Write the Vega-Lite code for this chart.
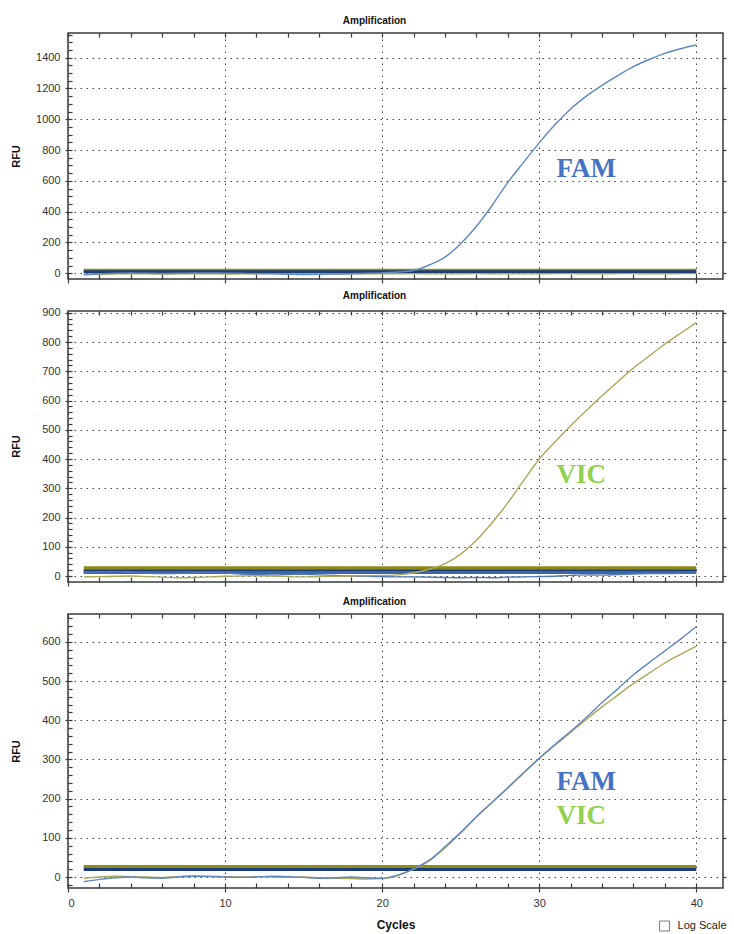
{
  "$schema": "https://vega.github.io/schema/vega-lite/v6.json",
  "padding": {"left": 9, "top": 15, "right": 2, "bottom": 2},
  "background": "white",
  "spacing": 32,
  "bounds": "flush",
  "config": {
    "view": {"stroke": "#3a3a3a", "strokeWidth": 1.5},
    "font": "Liberation Sans",
    "axis": {
      "labelFont": "Liberation Sans", "labelFontSize": 11, "labelColor": "#333",
      "tickColor": "#3a3a3a", "tickWidth": 1.2, "domain": false,
      "gridColor": "#444", "gridDash": [1.5, 4.5], "gridWidth": 1, "gridOpacity": 1,
      "titleFont": "Liberation Sans", "titleFontWeight": "bold", "titleFontSize": 11, "titleColor": "#111"
    },
    "title": {"font": "Liberation Sans", "fontSize": 10, "fontWeight": "bold", "color": "#111"}
  },
  "datasets": {
    "top": [
      {"cycle":1,"FAM":-8,"VIC":-9},{"cycle":2,"FAM":-3,"VIC":-6},{"cycle":3,"FAM":0,"VIC":-4},{"cycle":4,"FAM":2,"VIC":-3},{"cycle":5,"FAM":1,"VIC":-4},
      {"cycle":6,"FAM":-1,"VIC":-5},{"cycle":7,"FAM":0,"VIC":-4},{"cycle":8,"FAM":2,"VIC":-3},{"cycle":9,"FAM":3,"VIC":-3},{"cycle":10,"FAM":1,"VIC":-5},
      {"cycle":11,"FAM":0,"VIC":-4},{"cycle":12,"FAM":-2,"VIC":-3},{"cycle":13,"FAM":-4,"VIC":-2},{"cycle":14,"FAM":-6,"VIC":-3},{"cycle":15,"FAM":-8,"VIC":-5},
      {"cycle":16,"FAM":-7,"VIC":-4},{"cycle":17,"FAM":-5,"VIC":-3},{"cycle":18,"FAM":-3,"VIC":-3},{"cycle":19,"FAM":0,"VIC":-4},{"cycle":20,"FAM":3,"VIC":-4},
      {"cycle":21,"FAM":8,"VIC":-3},{"cycle":22,"FAM":18,"VIC":-2},{"cycle":23,"FAM":54,"VIC":-3},{"cycle":24,"FAM":105,"VIC":-4},{"cycle":25,"FAM":192,"VIC":-3},
      {"cycle":26,"FAM":305,"VIC":-2},{"cycle":27,"FAM":440,"VIC":-3},{"cycle":28,"FAM":590,"VIC":-4},{"cycle":29,"FAM":720,"VIC":-4},{"cycle":30,"FAM":847,"VIC":-3},
      {"cycle":31,"FAM":964,"VIC":-2},{"cycle":32,"FAM":1067,"VIC":-2},{"cycle":33,"FAM":1150,"VIC":-3},{"cycle":34,"FAM":1220,"VIC":-3},{"cycle":35,"FAM":1283,"VIC":-2},
      {"cycle":36,"FAM":1341,"VIC":-2},{"cycle":37,"FAM":1388,"VIC":-3},{"cycle":38,"FAM":1428,"VIC":-3},{"cycle":39,"FAM":1458,"VIC":-2},{"cycle":40,"FAM":1482,"VIC":-2}
    ],
    "mid": [
      {"cycle":1,"FAM":12,"VIC":-3},{"cycle":2,"FAM":14,"VIC":-2},{"cycle":3,"FAM":15,"VIC":-1},{"cycle":4,"FAM":13,"VIC":0},{"cycle":5,"FAM":10,"VIC":-2},
      {"cycle":6,"FAM":8,"VIC":-4},{"cycle":7,"FAM":9,"VIC":-6},{"cycle":8,"FAM":11,"VIC":-5},{"cycle":9,"FAM":12,"VIC":-3},{"cycle":10,"FAM":10,"VIC":-1},
      {"cycle":11,"FAM":7,"VIC":0},{"cycle":12,"FAM":5,"VIC":1},{"cycle":13,"FAM":4,"VIC":0},{"cycle":14,"FAM":5,"VIC":-2},{"cycle":15,"FAM":6,"VIC":-3},
      {"cycle":16,"FAM":4,"VIC":-2},{"cycle":17,"FAM":2,"VIC":-1},{"cycle":18,"FAM":0,"VIC":0},{"cycle":19,"FAM":-1,"VIC":1},{"cycle":20,"FAM":-2,"VIC":2},
      {"cycle":21,"FAM":-3,"VIC":4},{"cycle":22,"FAM":-3,"VIC":11},{"cycle":23,"FAM":-4,"VIC":23},{"cycle":24,"FAM":-5,"VIC":42},{"cycle":25,"FAM":-6,"VIC":75},
      {"cycle":26,"FAM":-5,"VIC":122},{"cycle":27,"FAM":-6,"VIC":182},{"cycle":28,"FAM":-4,"VIC":250},{"cycle":29,"FAM":-3,"VIC":326},{"cycle":30,"FAM":-2,"VIC":400},
      {"cycle":31,"FAM":-1,"VIC":458},{"cycle":32,"FAM":2,"VIC":514},{"cycle":33,"FAM":4,"VIC":566},{"cycle":34,"FAM":3,"VIC":616},{"cycle":35,"FAM":5,"VIC":664},
      {"cycle":36,"FAM":7,"VIC":711},{"cycle":37,"FAM":8,"VIC":752},{"cycle":38,"FAM":8,"VIC":793},{"cycle":39,"FAM":9,"VIC":830},{"cycle":40,"FAM":9,"VIC":866}
    ],
    "bot": [
      {"cycle":1,"FAM":-12,"VIC":-3},{"cycle":2,"FAM":-6,"VIC":0},{"cycle":3,"FAM":-2,"VIC":2},{"cycle":4,"FAM":0,"VIC":1},{"cycle":5,"FAM":-2,"VIC":0},
      {"cycle":6,"FAM":-3,"VIC":-1},{"cycle":7,"FAM":0,"VIC":1},{"cycle":8,"FAM":2,"VIC":3},{"cycle":9,"FAM":1,"VIC":2},{"cycle":10,"FAM":0,"VIC":1},
      {"cycle":11,"FAM":-1,"VIC":0},{"cycle":12,"FAM":0,"VIC":1},{"cycle":13,"FAM":2,"VIC":0},{"cycle":14,"FAM":1,"VIC":-1},{"cycle":15,"FAM":-1,"VIC":0},
      {"cycle":16,"FAM":-3,"VIC":-2},{"cycle":17,"FAM":-2,"VIC":-3},{"cycle":18,"FAM":0,"VIC":-4},{"cycle":19,"FAM":-2,"VIC":-5},{"cycle":20,"FAM":-3,"VIC":-4},
      {"cycle":21,"FAM":5,"VIC":4},{"cycle":22,"FAM":21,"VIC":20},{"cycle":23,"FAM":43,"VIC":41},{"cycle":24,"FAM":77,"VIC":74},{"cycle":25,"FAM":114,"VIC":112},
      {"cycle":26,"FAM":154,"VIC":153},{"cycle":27,"FAM":191,"VIC":190},{"cycle":28,"FAM":228,"VIC":227},{"cycle":29,"FAM":266,"VIC":265},{"cycle":30,"FAM":303,"VIC":302},
      {"cycle":31,"FAM":338,"VIC":336},{"cycle":32,"FAM":372,"VIC":369},{"cycle":33,"FAM":407,"VIC":402},{"cycle":34,"FAM":445,"VIC":434},{"cycle":35,"FAM":480,"VIC":464},
      {"cycle":36,"FAM":516,"VIC":494},{"cycle":37,"FAM":547,"VIC":520},{"cycle":38,"FAM":577,"VIC":546},{"cycle":39,"FAM":607,"VIC":568},{"cycle":40,"FAM":639,"VIC":589}
    ],
    "thresholds": [
      {"panel":"top","line":"olive","rfu":20},{"panel":"top","line":"navy","rfu":10},
      {"panel":"mid","line":"olive","rfu":28},{"panel":"mid","line":"navy","rfu":18},{"panel":"mid","line":"navy2","rfu":12},
      {"panel":"bot","line":"olive","rfu":27},{"panel":"bot","line":"navy","rfu":19}
    ],
    "labels": [
      {"panel":"top","label":"FAM","cycle":31.1,"rfu":627},
      {"panel":"mid","label":"VIC","cycle":31.1,"rfu":317},
      {"panel":"bot","label":"FAM","cycle":31.1,"rfu":221},
      {"panel":"bot","label":"VIC","cycle":31.1,"rfu":134}
    ],
    "checkbox": [{"cycle":37.98,"rfu":-125,"text":"Log Scale"}]
  },
  "vconcat": [
    {
      "width": 655, "height": 246,
      "title": {"text": "Amplification", "offset": 6, "dx": -21},
      "layer": [
        {
          "data": {"name": "thresholds"},
          "transform": [{"filter": "datum.panel == 'top'"}],
          "mark": {"type": "rule", "strokeWidth": 3},
          "encoding": {
            "x": {"datum": 1, "type": "quantitative", "scale": {"domain": [0, 41.7], "nice": false, "zero": false},
                  "axis": {"orient": "bottom", "values": [0,2,4,6,8,10,12,14,16,18,20,22,24,26,28,30,32,34,36,38,40], "tickSize": -5, "labels": false, "grid": false, "title": null}},
            "x2": {"datum": 40},
            "y": {"field": "rfu", "type": "quantitative", "scale": {"domain": [-37, 1560], "nice": false, "zero": false},
                  "axis": {"orient": "left", "values": [0,50,100,150,200,250,300,350,400,450,500,550,600,650,700,750,800,850,900,950,1000,1050,1100,1150,1200,1250,1300,1350,1400,1450,1500,1550], "tickSize": -4, "labels": false, "grid": false, "title": null}},
            "color": {"field": "line", "type": "nominal", "scale": {"domain": ["olive","navy","navy2"], "range": ["#8d8a1a","#1b3d7a","#3c66a8"]}, "legend": null}
          }
        },
        {
          "data": {"name": "top"},
          "transform": [{"fold": ["VIC","FAM"], "as": ["series","rfu"]}],
          "mark": {"type": "line", "strokeWidth": 1.4, "clip": true, "interpolate": "monotone"},
          "encoding": {
            "x": {"field": "cycle", "type": "quantitative", "scale": {"domain": [0, 41.7], "nice": false, "zero": false},
                  "axis": {"orient": "bottom", "values": [0,10,20,30,40], "tickSize": 4, "labels": false, "grid": true, "title": null}},
            "y": {"field": "rfu", "type": "quantitative", "scale": {"domain": [-37, 1560], "nice": false, "zero": false},
                  "axis": {"orient": "left", "values": [0,200,400,600,800,1000,1200,1400], "format": "d", "tickSize": 3, "labelPadding": 5, "grid": true, "title": "RFU", "titleX": -52, "titleY": 123, "titleBaseline": "middle"}},
            "color": {"field": "series", "type": "nominal", "scale": {"domain": ["FAM","VIC"], "range": ["#5f87c2","#aba857"]}, "legend": null}
          }
        },
        {
          "data": {"name": "labels"},
          "transform": [{"filter": "datum.panel == 'top'"}],
          "mark": {"type": "text", "font": "Liberation Serif", "fontWeight": "bold", "fontSize": 27, "align": "left", "baseline": "alphabetic"},
          "encoding": {
            "x": {"field": "cycle", "type": "quantitative", "scale": {"domain": [0, 41.7], "nice": false, "zero": false},
                  "axis": {"orient": "top", "values": [0,2,4,6,8,10,12,14,16,18,20,22,24,26,28,30,32,34,36,38,40], "tickSize": -4, "labels": false, "grid": false, "title": null}},
            "y": {"field": "rfu", "type": "quantitative", "scale": {"domain": [-37, 1560], "nice": false, "zero": false},
                  "axis": {"orient": "right", "values": [0,200,400,600,800,1000,1200,1400], "tickSize": 3, "labels": false, "grid": false, "title": null}},
            "text": {"field": "label"},
            "color": {"field": "label", "type": "nominal", "scale": {"domain": ["FAM","VIC"], "range": ["#4472c4","#92d050"]}, "legend": null}
          }
        }
      ],
      "resolve": {"axis": {"x": "independent", "y": "independent"}, "scale": {"color": "independent"}}
    },
    {
      "width": 655, "height": 271,
      "title": {"text": "Amplification", "offset": 6, "dx": -21},
      "layer": [
        {
          "data": {"name": "thresholds"},
          "transform": [{"filter": "datum.panel == 'mid'"}],
          "mark": {"type": "rule", "strokeWidth": 3},
          "encoding": {
            "x": {"datum": 1, "type": "quantitative", "scale": {"domain": [0, 41.7], "nice": false, "zero": false},
                  "axis": {"orient": "bottom", "values": [0,2,4,6,8,10,12,14,16,18,20,22,24,26,28,30,32,34,36,38,40], "tickSize": -5, "labels": false, "grid": false, "title": null}},
            "x2": {"datum": 40},
            "y": {"field": "rfu", "type": "quantitative", "scale": {"domain": [-20.5, 906], "nice": false, "zero": false},
                  "axis": {"orient": "left", "values": [0,20,40,60,80,100,120,140,160,180,200,220,240,260,280,300,320,340,360,380,400,420,440,460,480,500,520,540,560,580,600,620,640,660,680,700,720,740,760,780,800,820,840,860,880,900], "tickSize": -4, "labels": false, "grid": false, "title": null}},
            "color": {"field": "line", "type": "nominal", "scale": {"domain": ["olive","navy","navy2"], "range": ["#8d8a1a","#1b3d7a","#3c66a8"]}, "legend": null}
          }
        },
        {
          "data": {"name": "mid"},
          "transform": [{"fold": ["FAM","VIC"], "as": ["series","rfu"]}],
          "mark": {"type": "line", "strokeWidth": 1.4, "clip": true, "interpolate": "monotone"},
          "encoding": {
            "x": {"field": "cycle", "type": "quantitative", "scale": {"domain": [0, 41.7], "nice": false, "zero": false},
                  "axis": {"orient": "bottom", "values": [0,10,20,30,40], "tickSize": 4, "labels": false, "grid": true, "title": null}},
            "y": {"field": "rfu", "type": "quantitative", "scale": {"domain": [-20.5, 906], "nice": false, "zero": false},
                  "axis": {"orient": "left", "values": [0,100,200,300,400,500,600,700,800,900], "format": "d", "tickSize": 3, "labelPadding": 5, "grid": true, "title": "RFU", "titleX": -52, "titleY": 135, "titleBaseline": "middle"}},
            "color": {"field": "series", "type": "nominal", "scale": {"domain": ["FAM","VIC"], "range": ["#4f78b4","#aba857"]}, "legend": null}
          }
        },
        {
          "data": {"name": "labels"},
          "transform": [{"filter": "datum.panel == 'mid'"}],
          "mark": {"type": "text", "font": "Liberation Serif", "fontWeight": "bold", "fontSize": 27, "align": "left", "baseline": "alphabetic"},
          "encoding": {
            "x": {"field": "cycle", "type": "quantitative", "scale": {"domain": [0, 41.7], "nice": false, "zero": false},
                  "axis": {"orient": "top", "values": [0,2,4,6,8,10,12,14,16,18,20,22,24,26,28,30,32,34,36,38,40], "tickSize": -4, "labels": false, "grid": false, "title": null}},
            "y": {"field": "rfu", "type": "quantitative", "scale": {"domain": [-20.5, 906], "nice": false, "zero": false},
                  "axis": {"orient": "right", "values": [0,100,200,300,400,500,600,700,800,900], "tickSize": 3, "labels": false, "grid": false, "title": null}},
            "text": {"field": "label"},
            "color": {"field": "label", "type": "nominal", "scale": {"domain": ["FAM","VIC"], "range": ["#4472c4","#92d050"]}, "legend": null}
          }
        }
      ],
      "resolve": {"axis": {"x": "independent", "y": "independent"}, "scale": {"color": "independent"}}
    },
    {
      "width": 655, "height": 274,
      "title": {"text": "Amplification", "offset": 6, "dx": -21},
      "layer": [
        {
          "data": {"name": "thresholds"},
          "transform": [{"filter": "datum.panel == 'bot'"}],
          "mark": {"type": "rule", "strokeWidth": 3},
          "encoding": {
            "x": {"datum": 1, "type": "quantitative", "scale": {"domain": [0, 41.7], "nice": false, "zero": false},
                  "axis": {"orient": "bottom", "values": [0,2,4,6,8,10,12,14,16,18,20,22,24,26,28,30,32,34,36,38,40], "tickSize": -5, "labels": false, "grid": false, "title": null}},
            "x2": {"datum": 40},
            "y": {"field": "rfu", "type": "quantitative", "scale": {"domain": [-28, 671], "nice": false, "zero": false},
                  "axis": {"orient": "left", "values": [-20,0,20,40,60,80,100,120,140,160,180,200,220,240,260,280,300,320,340,360,380,400,420,440,460,480,500,520,540,560,580,600,620,640,660], "tickSize": -4, "labels": false, "grid": false, "title": null}},
            "color": {"field": "line", "type": "nominal", "scale": {"domain": ["olive","navy","navy2"], "range": ["#8d8a1a","#1b3d7a","#3c66a8"]}, "legend": null}
          }
        },
        {
          "data": {"name": "bot"},
          "transform": [{"fold": ["VIC","FAM"], "as": ["series","rfu"]}],
          "mark": {"type": "line", "strokeWidth": 1.4, "clip": true, "interpolate": "monotone"},
          "encoding": {
            "x": {"field": "cycle", "type": "quantitative", "scale": {"domain": [0, 41.7], "nice": false, "zero": false},
                  "axis": {"orient": "bottom", "values": [0,10,20,30,40], "tickSize": 4, "labelPadding": 5, "labels": true, "grid": true, "title": "Cycles", "titleFontSize": 12, "titlePadding": 11}},
            "y": {"field": "rfu", "type": "quantitative", "scale": {"domain": [-28, 671], "nice": false, "zero": false},
                  "axis": {"orient": "left", "values": [0,100,200,300,400,500,600], "format": "d", "tickSize": 3, "labelPadding": 5, "grid": true, "title": "RFU", "titleX": -52, "titleY": 137, "titleBaseline": "middle"}},
            "color": {"field": "series", "type": "nominal", "scale": {"domain": ["FAM","VIC"], "range": ["#5f87c2","#aba857"]}, "legend": null}
          }
        },
        {
          "data": {"name": "labels"},
          "transform": [{"filter": "datum.panel == 'bot'"}],
          "mark": {"type": "text", "font": "Liberation Serif", "fontWeight": "bold", "fontSize": 27, "align": "left", "baseline": "alphabetic"},
          "encoding": {
            "x": {"field": "cycle", "type": "quantitative", "scale": {"domain": [0, 41.7], "nice": false, "zero": false},
                  "axis": {"orient": "top", "values": [0,2,4,6,8,10,12,14,16,18,20,22,24,26,28,30,32,34,36,38,40], "tickSize": -4, "labels": false, "grid": false, "title": null}},
            "y": {"field": "rfu", "type": "quantitative", "scale": {"domain": [-28, 671], "nice": false, "zero": false},
                  "axis": {"orient": "right", "values": [0,100,200,300,400,500,600], "tickSize": 3, "labels": false, "grid": false, "title": null}},
            "text": {"field": "label"},
            "color": {"field": "label", "type": "nominal", "scale": {"domain": ["FAM","VIC"], "range": ["#4472c4","#92d050"]}, "legend": null}
          }
        },
        {
          "data": {"name": "checkbox"},
          "mark": {"type": "point", "shape": "square", "size": 100, "filled": false, "stroke": "#444", "strokeWidth": 1},
          "encoding": {
            "x": {"field": "cycle", "type": "quantitative", "scale": {"domain": [0, 41.7], "nice": false, "zero": false}, "axis": null},
            "y": {"field": "rfu", "type": "quantitative", "scale": {"domain": [-28, 671], "nice": false, "zero": false}, "axis": null}
          }
        },
        {
          "data": {"name": "checkbox"},
          "mark": {"type": "text", "align": "left", "baseline": "middle", "fontSize": 11, "dx": 13, "color": "#222"},
          "encoding": {
            "x": {"field": "cycle", "type": "quantitative", "scale": {"domain": [0, 41.7], "nice": false, "zero": false}, "axis": null},
            "y": {"field": "rfu", "type": "quantitative", "scale": {"domain": [-28, 671], "nice": false, "zero": false}, "axis": null},
            "text": {"field": "text"}
          }
        }
      ],
      "resolve": {"axis": {"x": "independent", "y": "independent"}, "scale": {"color": "independent"}}
    }
  ]
}
